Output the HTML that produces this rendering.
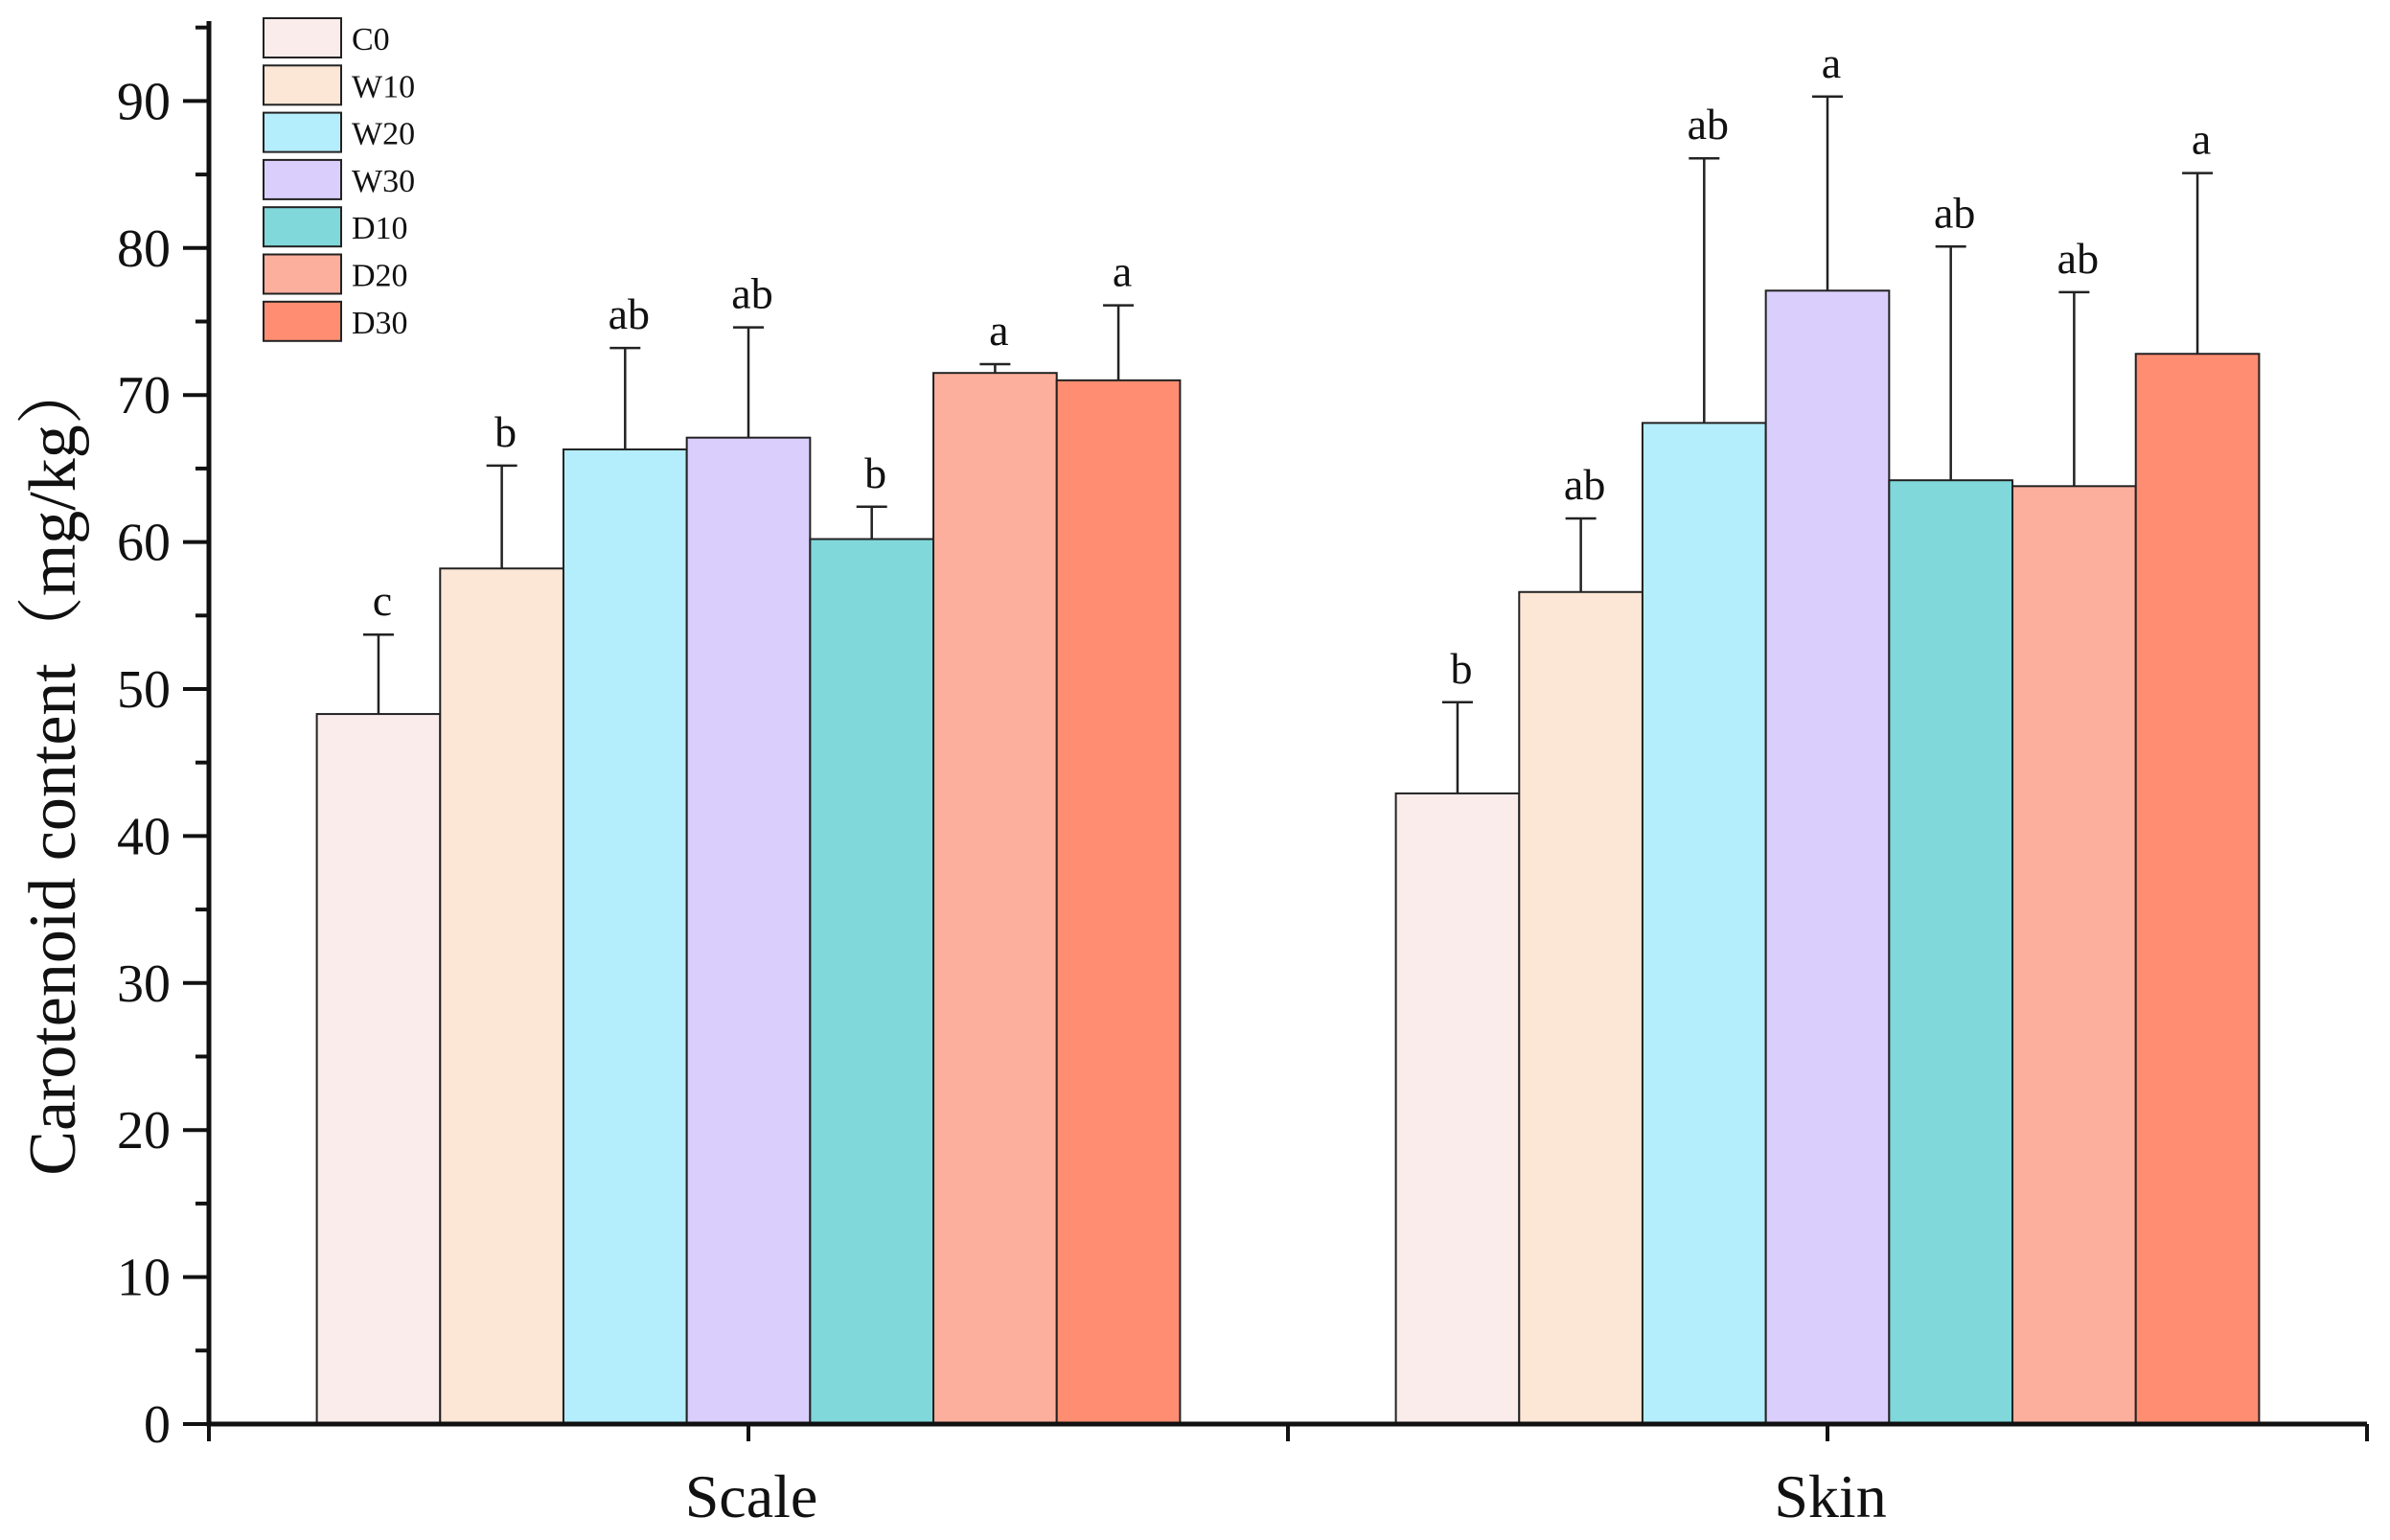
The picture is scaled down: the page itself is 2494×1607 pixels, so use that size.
<!DOCTYPE html>
<html><head><meta charset="utf-8">
<style>html,body{margin:0;padding:0;background:#fff}svg{display:block}text{font-family:"Liberation Serif",serif;fill:#111}</style>
</head><body>
<svg id="chart" width="2494" height="1607" viewBox="0 0 2494 1607"></svg>
<script>
const categories = ["Scale", "Skin"];
const seriesNames = ["C0", "W10", "W20", "W30", "D10", "D20", "D30"];
const seriesColors = ["#f9eceb", "#fce6d5", "#b4edfb", "#dacffc", "#80d8da", "#fdaf9e", "#fe8d72"];
const scaleValues = [48.3, 58.2, 66.3, 67.1, 60.2, 71.5, 71.0];
const scaleErrors = [5.4, 7.0, 6.9, 7.5, 2.2, 0.6, 5.1];
const skinValues = [42.9, 56.6, 68.1, 77.1, 64.2, 63.8, 72.8];
const skinErrors = [6.2, 5.0, 18.0, 13.2, 15.9, 13.2, 12.3];
const scaleLetters = ["c", "b", "ab", "ab", "b", "a", "a"];
const skinLetters = ["b", "ab", "ab", "a", "ab", "ab", "a"];
const yTicks = [0, 10, 20, 30, 40, 50, 60, 70, 80, 90];

const NS = "http://www.w3.org/2000/svg";
const svg = document.getElementById("chart");
const X0 = 218, X1 = 2470, Y0 = 1486, YTOP = 22;
const yPer = 15.34;
const y = v => Y0 - v * yPer;
const x = c => X0 + (c - 0.5) * (X1 - X0) / 2;
function mk(tag, attrs, parent) {
  const e = document.createElementNS(NS, tag);
  for (const k in attrs) e.setAttribute(k, attrs[k]);
  (parent || svg).appendChild(e);
  return e;
}
const values = [scaleValues, skinValues];
const errors = [scaleErrors, skinErrors];
const letters = [scaleLetters, skinLetters];
const groupW = 0.8 * (X1 - X0) / 2;
const barW = groupW / seriesNames.length;

categories.forEach((cat, ci) => {
  const cx = x(ci + 1);
  const g = mk("g", {});
  
  
  values[ci].forEach((v, si) => {
    const bx = cx - groupW / 2 + si * barW;
    const r = mk("rect", {x: bx, y: y(v), width: barW, height: Y0 - y(v), fill: seriesColors[si], stroke: "#222", "stroke-width": 2}, g);
    
    
    const mx = bx + barW / 2, top = y(v + errors[ci][si]);
    const eb = mk("path", {d: `M${mx},${y(v)}V${top}M${mx-16},${top}H${mx+16}`, stroke: "#222", "stroke-width": 2.5, fill: "none"}, g);
    
    
    const t = mk("text", {x: mx + 4, y: top - 20, "text-anchor": "middle", "font-size": 46}, g);
    t.textContent = letters[ci][si];
    
    
  });
  const cl = mk("text", {x: cx + 3, y: 1583, "text-anchor": "middle", "font-size": 64});
  cl.textContent = cat;
  
  
});

const ax = mk("path", {d: `M${X0},${YTOP}V${Y0}H${X1}`, stroke: "#111", "stroke-width": 5, fill: "none"});


for (let v = 0; v <= 95; v += 5) {
  const major = v % 10 === 0;
  const tk = mk("line", {x1: X0 - (major ? 27 : 14), x2: X0, y1: y(v), y2: y(v), stroke: "#111", "stroke-width": 4});
  
  
}
yTicks.forEach(v => {
  const t = mk("text", {x: 178, y: y(v) + 19, "text-anchor": "end", "font-size": 56});
  t.textContent = v;
  
  
});
[0.5, 1, 1.5, 2, 2.5].forEach(c => {
  const tk = mk("line", {x1: x(c), x2: x(c), y1: Y0, y2: Y0 + 18, stroke: "#111", "stroke-width": 4});
  
  
});
const yt = mk("text", {x: 0, y: 0, "text-anchor": "middle", "font-size": 70, transform: "translate(78,800) rotate(-90)"});
yt.textContent = "Carotenoid content（mg/kg）";
yt.style.fontFamily = '"Liberation Serif","Noto Serif CJK SC",serif';



seriesNames.forEach((n, i) => {
  const g = mk("g", {});
  
  
  const ly = 19 + i * 49.3;
  mk("rect", {x: 275, y: ly, width: 81, height: 41, fill: seriesColors[i], stroke: "#222", "stroke-width": 2}, g);
  const t = mk("text", {x: 367, y: ly + 33, "font-size": 34}, g);
  t.textContent = n;
});
</script>
</body></html>
